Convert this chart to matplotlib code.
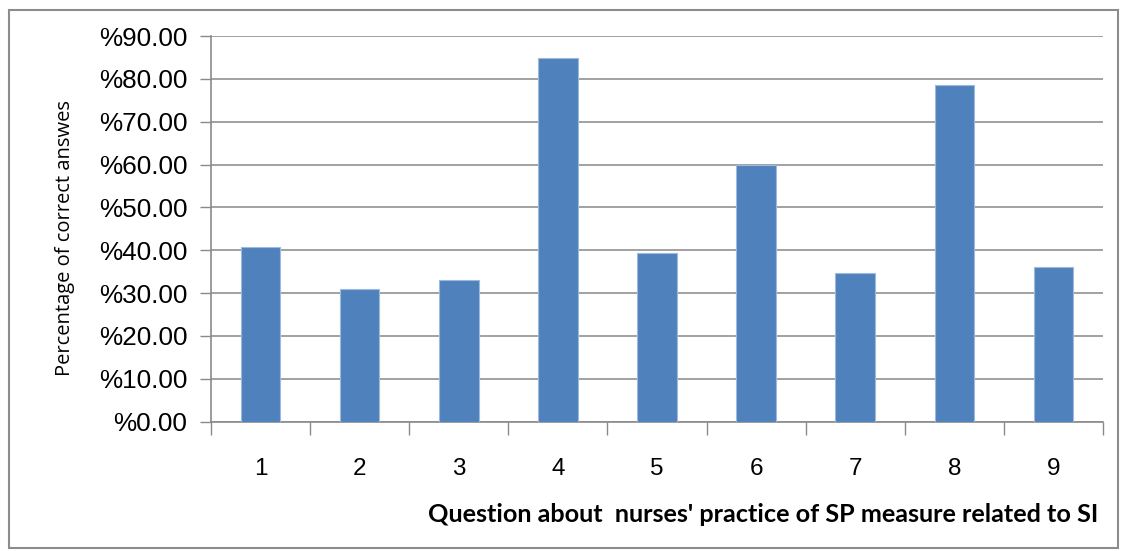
import matplotlib
matplotlib.use("Agg")
import matplotlib.pyplot as plt
from matplotlib.patches import Rectangle
from matplotlib.ticker import FuncFormatter, FixedLocator

questions = ["1", "2", "3", "4", "5", "6", "7", "8", "9"]
correct_pct = [40.7, 30.9, 33.1, 84.8, 39.3, 59.9, 34.6, 78.6, 36.0]
y_ticks = [0, 10, 20, 30, 40, 50, 60, 70, 80, 90]

fig = plt.figure(figsize=(11.28, 5.51), dpi=100)
ax = fig.add_axes([211 / 1128, 1 - 421.7 / 551, (1103 - 211) / 1128, (421.7 - 36) / 551])

x = list(range(len(questions)))
ax.bar(x, correct_pct, width=0.40, color="#4F81BD", edgecolor="#9DB9DD", linewidth=0.8, zorder=3)

ax.set_xlim(-0.5, len(questions) - 0.5)
ax.set_ylim(0, 90)
ax.yaxis.set_major_locator(FixedLocator(y_ticks))
ax.yaxis.set_major_formatter(FuncFormatter(lambda v, p: "%" + f"{v:.2f}"))
ax.grid(axis="y", color="#9a9a9a", linewidth=1.3, zorder=0)

# ticks sit between the categories, labels at the centres
ax.set_xticks([i - 0.5 for i in range(len(questions) + 1)])
ax.set_xticklabels([])
ax.set_xticks(x, minor=True)
ax.set_xticklabels(questions, minor=True)
ax.tick_params(axis="x", which="major", length=9, color="#8a8a8a", width=1)
ax.tick_params(axis="x", which="minor", length=0, pad=26, labelsize=17.5)
ax.tick_params(axis="y", length=8, color="#8a8a8a", width=1, labelsize=18.8, pad=9)
for lab in ax.get_yticklabels() + ax.get_xticklabels(minor=True):
    lab.set_fontfamily("Liberation Sans")

for side in ["top", "right"]:
    ax.spines[side].set_visible(False)
for side in ["left", "bottom"]:
    ax.spines[side].set_color("#8a8a8a")
    ax.spines[side].set_linewidth(1.2)

ax.set_ylabel("Percentage of correct answes", fontsize=14.5, fontfamily="Open Sans")
ax.yaxis.set_label_coords((75 - 211) / 892, (421.7 - 238) / 385.7)
fig.text(1098 / 1128, 1 - 514 / 551, "Question about  nurses' practice of SP measure related to SI",
         ha="right", va="center", fontsize=18.2, fontweight="bold", fontfamily="Lato")

fig.add_artist(Rectangle((9 / 1128, 1 - 548 / 551), 1109 / 1128, 538 / 551, transform=fig.transFigure,
                         fill=False, edgecolor="#8c8c8c", linewidth=1.5))

fig.savefig("out.png", dpi=100)
